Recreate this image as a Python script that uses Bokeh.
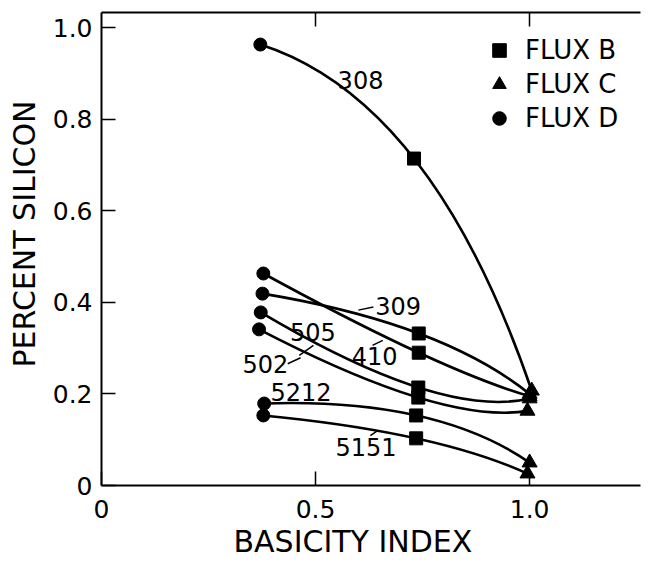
from bokeh.plotting import figure
from bokeh.models import (LinearAxis, FixedTicker, Legend, LegendItem,
                          ColumnDataSource, Range1d, Title)
from bokeh.core.properties import value
from bokeh.embed import file_html
from bokeh.resources import INLINE

# ---------------- data ----------------
heats = ["308", "309", "410", "505", "502", "5212", "5151"]
# Flux D (circles)
basicity_d = [0.371, 0.376, 0.378, 0.372, 0.368, 0.380, 0.378]
si_d = [0.963, 0.419, 0.463, 0.378, 0.341, 0.179, 0.153]
# Flux B (squares)
basicity_b = [0.730, 0.741, 0.741, 0.740, 0.740, 0.735, 0.735]
si_b = [0.714, 0.332, 0.290, 0.214, 0.192, 0.153, 0.103]
# Flux C (triangles)
basicity_c = [1.005, 1.000, 1.000, 1.000, 0.995, 1.000, 0.995]
si_c = [0.207, 0.200, 0.195, 0.190, 0.163, 0.050, 0.026]

x_ticks = [0, 0.5, 1.0]
x_tick_labels = ["0", "0.5", "1.0"]
y_ticks = [0, 0.2, 0.4, 0.6, 0.8, 1.0]
y_tick_labels = ["0", "0.2", "0.4", "0.6", "0.8", "1.0"]
legend_labels = ["FLUX B", "FLUX C", "FLUX D"]
x_title = "BASICITY INDEX"
y_title = "PERCENT SILICON"

# ---------------- annotation layout ----------------
label_x = [0.605, 0.693, 0.638, 0.494, 0.383, 0.466, 0.618]
label_y = [0.886, 0.393, 0.282, 0.336, 0.266, 0.205, 0.085]
leader_x0 = [0.600, 0.633, 0.495, 0.435, 0.628]
leader_y0 = [0.383, 0.306, 0.306, 0.266, 0.109]
leader_x1 = [0.635, 0.657, 0.462, 0.465, 0.645]
leader_y1 = [0.390, 0.317, 0.284, 0.279, 0.120]

FONT = "DejaVu Sans"

p = figure(width=649, height=564,
           x_range=Range1d(0, 1.259), y_range=Range1d(0, 1.033),
           output_backend="svg", toolbar_location=None,
           min_border_left=101, min_border_right=9,
           min_border_top=12, min_border_bottom=79)
p.title.visible = False
p.grid.visible = False
p.outline_line_color = None
p.background_fill_color = "white"
p.border_fill_color = "white"

for ax in (p.xaxis[0], p.yaxis[0]):
    ax.axis_line_width = 2
    ax.axis_line_color = "black"
    ax.major_tick_in = 14
    ax.major_tick_out = 0
    ax.major_tick_line_width = 1.5
    ax.major_tick_line_color = "black"
    ax.minor_tick_line_color = None
    ax.major_label_text_font = FONT
    ax.major_label_text_font_size = "25px"
    ax.major_label_text_color = "black"

p.xaxis[0].ticker = FixedTicker(ticks=x_ticks)
p.xaxis[0].major_label_overrides = dict(zip(x_ticks, x_tick_labels))
p.xaxis[0].major_label_standoff = 14

p.yaxis[0].ticker = FixedTicker(ticks=y_ticks)
p.yaxis[0].major_label_overrides = dict(zip(y_ticks, y_tick_labels))
p.yaxis[0].major_label_standoff = 9

top = LinearAxis(ticker=FixedTicker(ticks=x_ticks[1:]),
                 major_tick_in=14, major_tick_out=0,
                 major_tick_line_width=1.5,
                 minor_tick_line_color=None,
                 axis_line_width=2, axis_line_color="black",
                 major_label_text_color=None,
                 major_label_text_font_size="1px",
                 major_label_standoff=0)
p.add_layout(top, "above")

# axis titles as side-panel titles (allows shifting them along the axis)
p.add_layout(Title(text=x_title, align="left", offset=132, standoff=2,
                   text_font=FONT, text_font_size="30px",
                   text_font_style="normal", text_color="black"), "below")
p.add_layout(Title(text=y_title, align="left", offset=118, standoff=12,
                   vertical_align="top",
                   text_font=FONT, text_font_size="30px",
                   text_font_style="normal", text_color="black"), "left")

# ---------------- smooth curves through the three points of each heat ----------------
cx = [2 * b - (d + c) / 2 for d, b, c in zip(basicity_d, basicity_b, basicity_c)]
cy = [2 * b - (d + c) / 2 for d, b, c in zip(si_d, si_b, si_c)]
curves = ColumnDataSource(dict(x0=basicity_d, y0=si_d, x1=basicity_c, y1=si_c,
                               cx=cx, cy=cy))
p.quadratic(x0="x0", y0="y0", x1="x1", y1="y1", cx="cx", cy="cy",
            source=curves, line_color="black", line_width=2.6)

r_b = p.scatter(basicity_b, si_b, marker="square", size=13,
                fill_color="black", line_color="black")
r_c = p.scatter(basicity_c, si_c, marker="triangle", size=15,
                fill_color="black", line_color="black")
r_d = p.scatter(basicity_d, si_d, marker="circle", size=13,
                fill_color="black", line_color="black")

# heat labels and leaders
p.text(x=label_x, y=label_y, text=heats, text_font=value(FONT),
       text_font_size=value("24px"), text_align="center",
       text_baseline="middle", text_color="black")
p.segment(x0=leader_x0, y0=leader_y0, x1=leader_x1, y1=leader_y1,
          line_color="black", line_width=1.5)

legend = Legend(items=[LegendItem(label=legend_labels[0], renderers=[r_b]),
                       LegendItem(label=legend_labels[1], renderers=[r_c]),
                       LegendItem(label=legend_labels[2], renderers=[r_d])],
                location=(380, 350), glyph_width=36, glyph_height=34,
                spacing=0, padding=0, margin=0, label_standoff=8,
                label_text_font=FONT, label_text_font_size="26px",
                label_text_color="black",
                border_line_color=None, background_fill_alpha=0)
p.add_layout(legend)

open("out.html", "w").write(file_html(p, INLINE))
